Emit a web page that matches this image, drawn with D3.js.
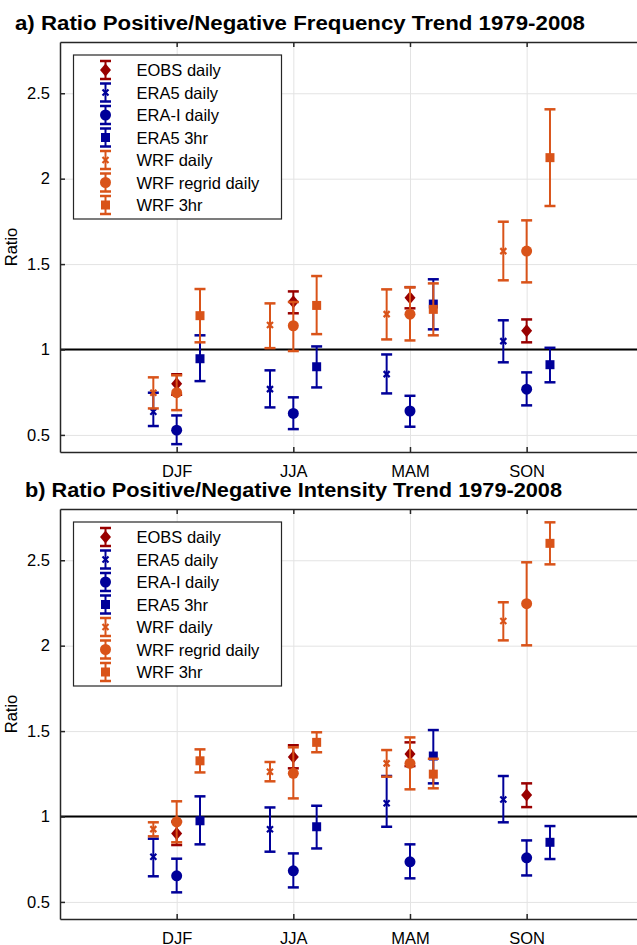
<!DOCTYPE html>
<html>
<head>
<meta charset="utf-8">
<script src="https://cdn.jsdelivr.net/npm/d3@7"></script>
<style>
  body { margin: 0; background: #fff; }
  svg { display: block; font-family: "Liberation Sans", Arial, sans-serif; }
</style>
</head>
<body>
<svg width="637" height="945"></svg>
<script>
var seasons = ["DJF", "JJA", "MAM", "SON"];
var seriesNames = ["EOBS daily", "ERA5 daily", "ERA-I daily", "ERA5 3hr", "WRF daily", "WRF regrid daily", "WRF 3hr"];
var seriesOffset = [0, -0.2, 0, 0.2, -0.2, 0, 0.2];
var seriesMarker = ["diamond", "x", "circle", "square", "x", "circle", "square"];
var yTicks = [0.5, 1, 1.5, 2, 2.5];

// [ratio, lower, upper] per season (DJF, JJA, MAM, SON)
var freqEOBS      = [[0.800, 0.735, 0.855], [1.280, 1.212, 1.340], [1.303, 1.241, 1.365], [1.110, 1.042, 1.176]];
var freqERA5      = [[0.636, 0.552, 0.747], [0.768, 0.661, 0.878], [0.856, 0.743, 0.971], [1.049, 0.925, 1.171]];
var freqERAI      = [[0.528, 0.446, 0.614], [0.626, 0.534, 0.720], [0.640, 0.548, 0.729], [0.768, 0.673, 0.866]];
var freqERA5_3hr  = [[0.946, 0.815, 1.083], [0.899, 0.778, 1.018], [1.266, 1.118, 1.411], [0.911, 0.808, 1.010]];
var freqWRF       = [[0.747, 0.655, 0.837], [1.143, 1.008, 1.270], [1.207, 1.059, 1.352], [1.576, 1.405, 1.748]];
var freqWRFregrid = [[0.747, 0.645, 0.849], [1.139, 0.991, 1.278], [1.207, 1.053, 1.364], [1.576, 1.393, 1.756]];
var freqWRF_3hr   = [[1.198, 1.042, 1.354], [1.258, 1.090, 1.430], [1.235, 1.083, 1.387], [2.123, 1.840, 2.406]];

var intEOBS      = [[0.901, 0.833, 0.970], [1.348, 1.282, 1.417], [1.366, 1.295, 1.434], [1.126, 1.055, 1.194]];
var intERA5      = [[0.764, 0.650, 0.870], [0.925, 0.794, 1.053], [1.077, 0.940, 1.237], [1.100, 0.966, 1.237]];
var intERAI      = [[0.653, 0.556, 0.753], [0.682, 0.585, 0.784], [0.735, 0.638, 0.837], [0.758, 0.655, 0.860]];
var intERA5_3hr  = [[0.975, 0.837, 1.118], [0.940, 0.813, 1.063], [1.354, 1.194, 1.506], [0.849, 0.751, 0.944]];
var intWRF       = [[0.926, 0.884, 0.966], [1.262, 1.206, 1.319], [1.311, 1.233, 1.389], [2.144, 2.031, 2.254]];
var intWRFregrid = [[0.969, 0.849, 1.089], [1.253, 1.106, 1.405], [1.311, 1.159, 1.463], [2.246, 2.002, 2.488]];
var intWRF_3hr   = [[1.326, 1.258, 1.393], [1.434, 1.376, 1.493], [1.248, 1.165, 1.338], [2.599, 2.476, 2.722]];

var colors = ["#990000", "#000099", "#000099", "#000099", "#D95319", "#D95319", "#D95319"];

var panels = [
  { title: "a) Ratio Positive/Negative Frequency Trend 1979-2008", titleX: 15, titleY: 30, titleW: 570, top: 42,
    data: [freqEOBS, freqERA5, freqERAI, freqERA5_3hr, freqWRF, freqWRFregrid, freqWRF_3hr] },
  { title: "b) Ratio Positive/Negative Intensity Trend 1979-2008", titleX: 25, titleY: 497, titleW: 537, top: 509,
    data: [intEOBS, intERA5, intERAI, intERA5_3hr, intWRF, intWRFregrid, intWRF_3hr] }
];

var svg = d3.select("svg");
var left = 60, right = 643.3, plotH = 410;
var axisColor = "#262626";

var x = d3.scaleLinear().domain([0, 5]).range([left, right]);

function drawMarker(g, type, color) {
  if (type == "diamond") {
    g.append("path").attr("d", "M0,-6.5L5.5,0L0,6.5L-5.5,0Z").attr("fill", color);
  } else if (type == "circle") {
    g.append("circle").attr("r", 5.5).attr("fill", color);
  } else if (type == "square") {
    g.append("rect").attr("x", -4.5).attr("y", -4.5).attr("width", 9).attr("height", 9).attr("fill", color);
  } else {
    g.append("path").attr("d", "M-3,-3L3,3M-3,3L3,-3")
      .attr("stroke", color).attr("stroke-width", 2.2).attr("fill", "none");
  }
}

function drawErrorbar(g, y0, y1, color) {
  g.append("line").attr("x1", 0).attr("x2", 0).attr("y1", y0).attr("y2", y1)
    .attr("stroke", color).attr("stroke-width", 2);
  [y0, y1].forEach(function(yy) {
    g.append("line").attr("x1", -5.5).attr("x2", 5.5).attr("y1", yy).attr("y2", yy)
      .attr("stroke", color).attr("stroke-width", 2.5);
  });
}

panels.forEach(function(p) {
  var y = d3.scaleLinear().domain([0.4, 2.8]).range([p.top + plotH, p.top]);
  var g = svg.append("g");

  // grid
  g.append("g").attr("transform", "translate(0," + (p.top + plotH) + ")")
    .call(d3.axisBottom(x).tickValues([1, 2, 3, 4]).tickSize(-plotH).tickFormat(""))
    .call(function(a) { a.select(".domain").remove(); a.selectAll("line").attr("stroke", "#e3e3e3"); });
  g.append("g").attr("transform", "translate(" + left + ",0)")
    .call(d3.axisLeft(y).tickValues(yTicks).tickSize(-(right - left)).tickFormat(""))
    .call(function(a) { a.select(".domain").remove(); a.selectAll("line").attr("stroke", "#e3e3e3"); });

  // reference line at 1
  g.append("line").attr("x1", left).attr("x2", right).attr("y1", y(1)).attr("y2", y(1))
    .attr("stroke", "#000").attr("stroke-width", 2);

  // axes
  var styleAxis = function(a) {
    a.select(".domain").attr("stroke", axisColor).attr("stroke-width", 1.5);
    a.selectAll(".tick line").attr("stroke", axisColor).attr("stroke-width", 1.5);
    a.selectAll("text").attr("fill", "#000").style("font-size", "16.5px").style("font-family", "Liberation Sans, Arial, sans-serif");
  };
  g.append("g").attr("transform", "translate(0," + (p.top + plotH) + ")")
    .call(d3.axisBottom(x).tickValues([1, 2, 3, 4]).tickSize(-5).tickSizeOuter(0).tickPadding(13)
      .tickFormat(function(d) { return seasons[d - 1]; }))
    .call(styleAxis);
  g.append("g").attr("transform", "translate(0," + p.top + ")")
    .call(d3.axisTop(x).tickValues([1, 2, 3, 4]).tickSize(-5).tickSizeOuter(0).tickFormat(""))
    .call(styleAxis);
  g.append("g").attr("transform", "translate(" + left + ",0)")
    .call(d3.axisLeft(y).tickValues(yTicks).tickSize(-5).tickSizeOuter(0).tickPadding(10)
      .tickFormat(d3.format("")))
    .call(styleAxis);
  g.append("line").attr("x1", right).attr("x2", right).attr("y1", p.top).attr("y2", p.top + plotH)
    .attr("stroke", axisColor).attr("stroke-width", 1.5);

  // error bars and markers
  p.data.forEach(function(series, i) {
    series.forEach(function(d, j) {
      var mg = g.append("g").attr("transform", "translate(" + x(j + 1 + seriesOffset[i]) + ",0)");
      drawErrorbar(mg, y(d[1]), y(d[2]), colors[i]);
      var m = mg.append("g").attr("transform", "translate(0," + y(d[0]) + ")");
      drawMarker(m, seriesMarker[i], colors[i]);
    });
  });

  // title
  svg.append("text").attr("x", p.titleX).attr("y", p.titleY)
    .attr("font-size", "20px").attr("font-weight", "bold")
    .attr("textLength", p.titleW).attr("lengthAdjust", "spacingAndGlyphs")
    .text(p.title);

  // y label
  svg.append("text")
    .attr("transform", "translate(17," + (p.top + plotH / 2) + ") rotate(-90)")
    .attr("text-anchor", "middle").attr("font-size", "16.5px").text("Ratio");

  // legend
  var lg = svg.append("g").attr("transform", "translate(73.5," + (p.top + 13) + ")");
  lg.append("rect").attr("width", 208).attr("height", 164)
    .attr("fill", "#fff").attr("stroke", axisColor).attr("stroke-width", 1.2);
  seriesNames.forEach(function(name, i) {
    var row = lg.append("g").attr("transform", "translate(0," + (15 + i * 22.5) + ")");
    var mg = row.append("g").attr("transform", "translate(32,0)");
    drawErrorbar(mg, -9, 9, colors[i]);
    drawMarker(mg, seriesMarker[i], colors[i]);
    row.append("text").attr("x", 63).attr("y", 6).attr("font-size", "16.5px").text(name);
  });
});
</script>
</body>
</html>
